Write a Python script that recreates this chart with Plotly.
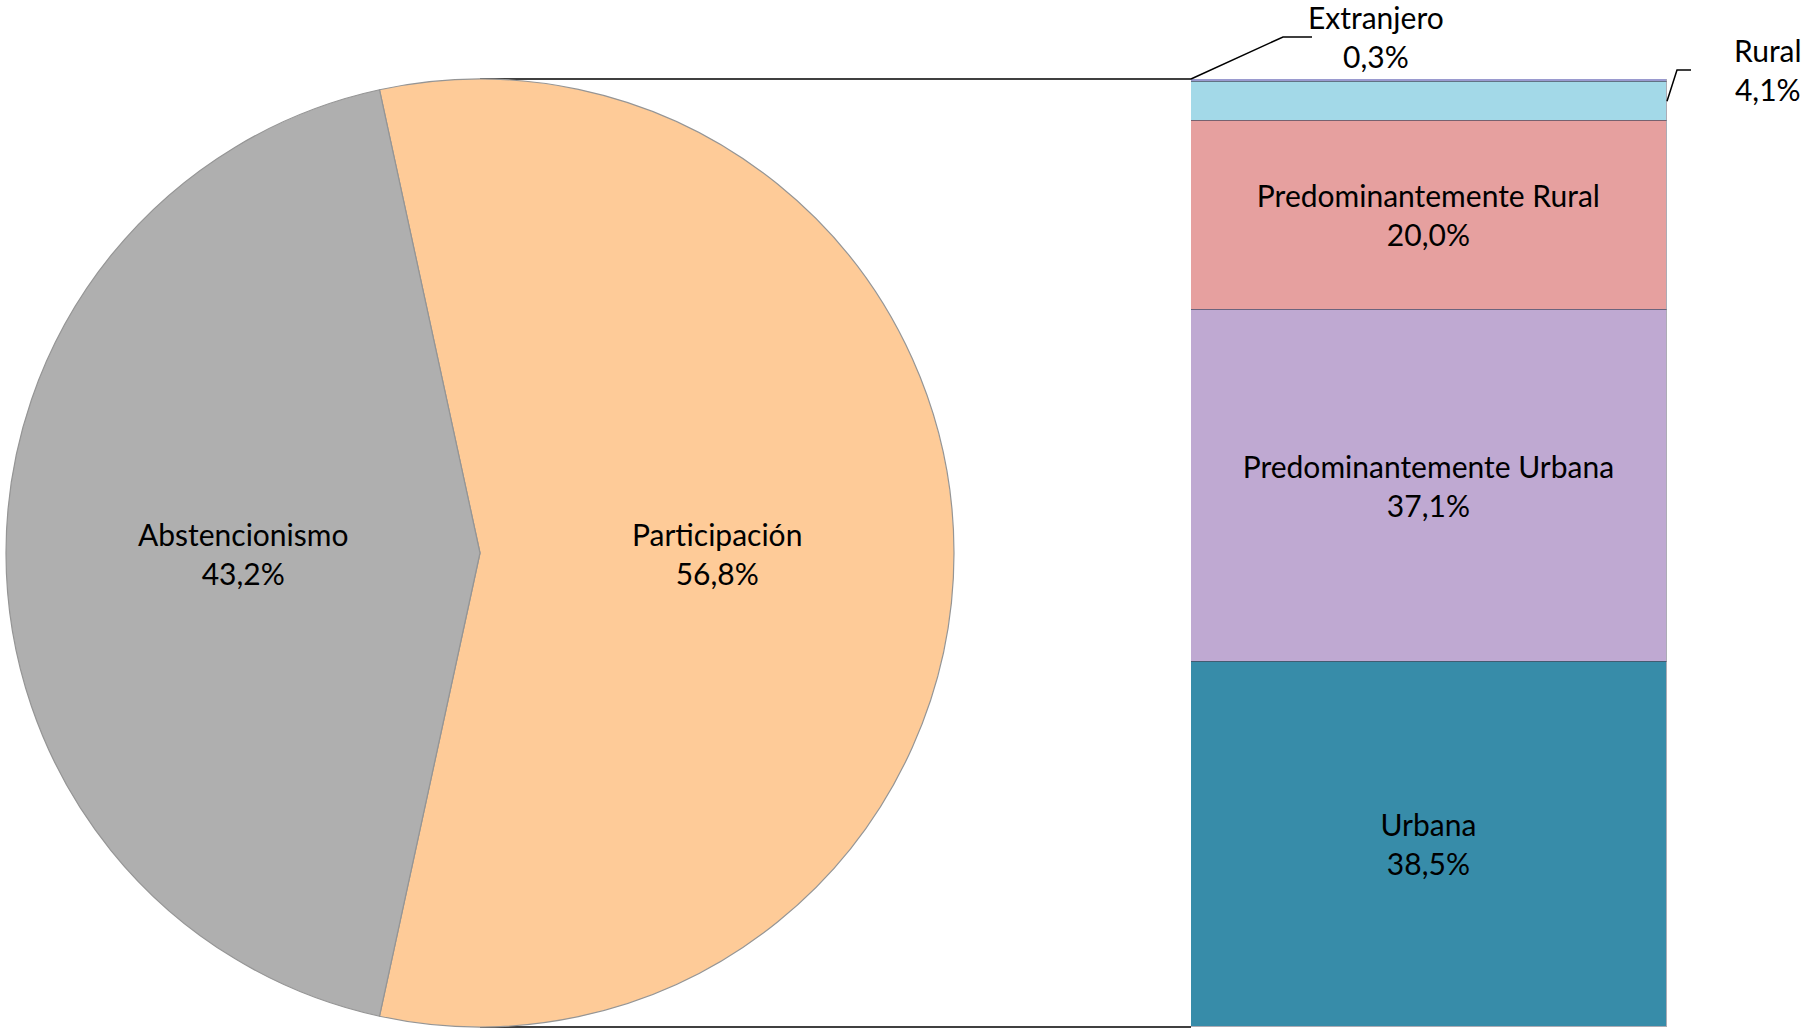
import math
import plotly.graph_objects as go

# ---- data ----
pie_labels = ["Participación", "Abstencionismo"]
pie_values = [56.8, 43.2]
pie_colors = ["#FECB98", "#AFAFAF"]

bar_labels = ["Urbana", "Predominantemente Urbana", "Predominantemente Rural", "Rural", "Extranjero"]
bar_values = [38.5, 37.1, 20.0, 4.1, 0.3]
bar_colors = ["#378CA9", "#BFA9D2", "#E6A09F", "#A3D9E8", "#9A9ACF"]
bar_inside = [True, True, True, False, False]

W, H = 1804, 1030
FONT = "Lato"
FS = 30


def fmt(v):
    return f"{v:.1f}".replace(".", ",") + "%"


# ---- geometry (pixels -> paper) ----
pie_cx, pie_cy, pie_r = 480, 553, 474
pie_dom_x = [(pie_cx - pie_r) / W, (pie_cx + pie_r) / W]
pie_dom_y = [1 - (pie_cy + pie_r) / H, 1 - (pie_cy - pie_r) / H]
bar_dom_x = [1191 / W, 1667 / W]
bar_dom_y = pie_dom_y

fig = go.Figure()

total = sum(pie_values)
rotation = 90 - pie_values[0] / total * 180

fig.add_trace(go.Pie(
    labels=pie_labels, values=pie_values, sort=False, direction="clockwise",
    rotation=rotation, textinfo="none", hoverinfo="label+percent",
    marker=dict(colors=pie_colors, line=dict(color="#959595", width=1.2)),
    domain=dict(x=pie_dom_x, y=pie_dom_y), showlegend=False,
))

for lab, val, col, ins in zip(bar_labels, bar_values, bar_colors, bar_inside):
    fig.add_trace(go.Bar(
        x=[0], y=[val], width=1, name=lab,
        marker=dict(color=col, line=dict(color="rgba(70,70,90,0.45)", width=1.2)),
        text=[f"{lab}<br>{fmt(val)}" if ins else ""], textposition="inside",
        insidetextanchor="middle", textangle=0,
        textfont=dict(family=FONT, size=FS, color="black"), showlegend=False,
        xaxis="x", yaxis="y",
    ))

annotations = []
# pie labels at half radius along each slice mid-angle
cum = 0
for lab, val in zip(pie_labels, pie_values):
    theta = math.radians(rotation + (cum + val / 2) / total * 360)
    cum += val
    px = pie_cx + 0.5 * pie_r * math.sin(theta)
    py = pie_cy - 0.5 * pie_r * math.cos(theta)
    annotations.append(dict(x=px / W, y=1 - py / H, xref="paper", yref="paper",
                            xanchor="center", yanchor="middle",
                            text=f"{lab}<br>{fmt(val)}", showarrow=False,
                            font=dict(family=FONT, size=FS, color="black")))


def ypaper(v):
    return bar_dom_y[0] + v / 100 * (bar_dom_y[1] - bar_dom_y[0])


top_total = sum(bar_values)
y_top = ypaper(top_total)
rural_mid = ypaper(sum(bar_values[:3]) + bar_values[3] / 2)

# outside labels
annotations.append(dict(x=1376 / W, y=1 - 36 / H, xref="paper", yref="paper",
                        xanchor="center", yanchor="middle",
                        text=f"{bar_labels[4]}<br>{fmt(bar_values[4])}", showarrow=False,
                        font=dict(family=FONT, size=FS, color="black")))
annotations.append(dict(x=1768 / W, y=1 - 70 / H, xref="paper", yref="paper",
                        xanchor="center", yanchor="middle",
                        text=f"{bar_labels[3]}<br>{fmt(bar_values[3])}", showarrow=False,
                        font=dict(family=FONT, size=FS, color="black")))

shapes = []
pie_top = pie_dom_y[1]
pie_bot = pie_dom_y[0]
shapes.append(dict(type="line", xref="paper", yref="paper", x0=pie_cx / W, y0=pie_top,
                   x1=bar_dom_x[0], y1=y_top, line=dict(color="black", width=1.5), layer="below"))
shapes.append(dict(type="line", xref="paper", yref="paper", x0=pie_cx / W, y0=pie_bot,
                   x1=bar_dom_x[0], y1=bar_dom_y[0], line=dict(color="black", width=1.5), layer="below"))
# leader lines
x0 = bar_dom_x[0]
ex_y = 1 - 37 / H
shapes.append(dict(type="path", xref="paper", yref="paper",
                   path=f"M {x0},{y_top} L {1283 / W},{ex_y} L {1312 / W},{ex_y}",
                   line=dict(color="black", width=1.5)))
x1 = bar_dom_x[1]
ru_y = 1 - 70 / H
shapes.append(dict(type="path", xref="paper", yref="paper",
                   path=f"M {x1},{rural_mid} L {1677 / W},{ru_y} L {1691 / W},{ru_y}",
                   line=dict(color="black", width=1.5)))

fig.update_layout(
    width=W, height=H, margin=dict(l=0, r=0, t=0, b=0),
    paper_bgcolor="white", plot_bgcolor="rgba(0,0,0,0)",
    barmode="stack", bargap=0,
    xaxis=dict(domain=bar_dom_x, range=[-0.5, 0.5], visible=False, fixedrange=True),
    yaxis=dict(domain=bar_dom_y, range=[0, 100], visible=False, fixedrange=True),
    annotations=annotations, shapes=shapes,
    font=dict(family=FONT),
)

fig.write_html(
    "out.html",
    config={"displayModeBar": False},
    post_script="document.body.style.margin='0';document.body.style.overflow='hidden';",
)
